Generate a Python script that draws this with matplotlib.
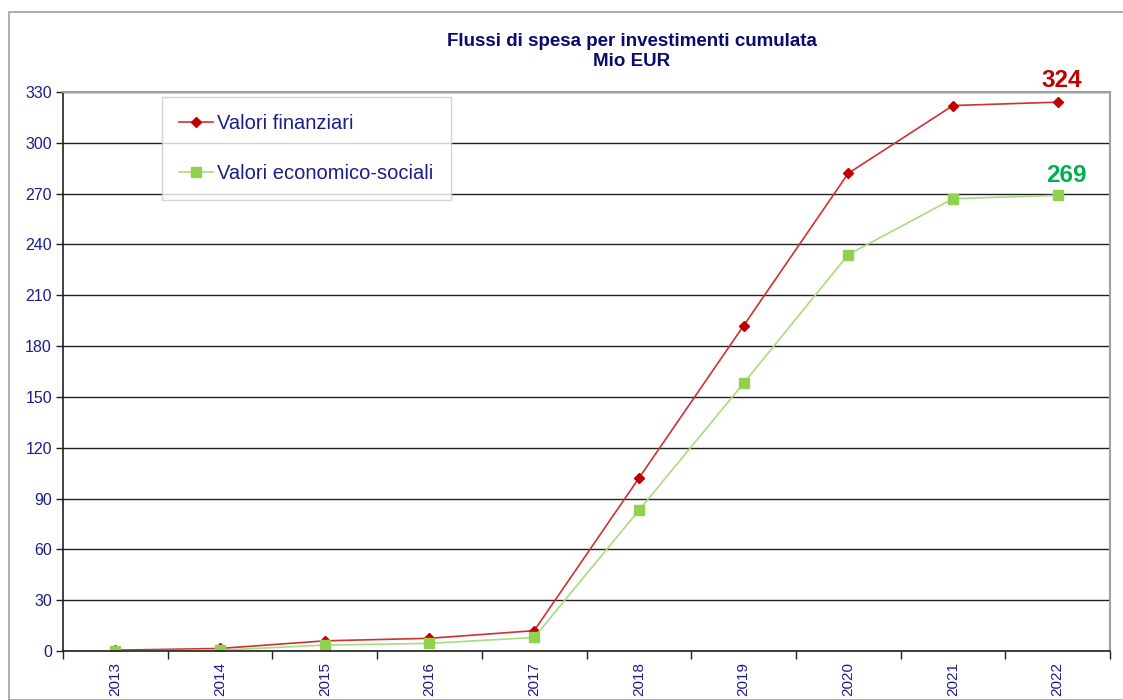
import matplotlib.pyplot as plt
import numpy as np
from matplotlib.patches import Rectangle

plt.rcParams['font.family'] = ['Liberation Sans', 'DejaVu Sans']

# Valori (Mio EUR, cumulati)
anni = ["2013", "2014", "2015", "2016", "2017", "2018", "2019", "2020", "2021", "2022"]
finanziari = [0.5, 1.5, 6, 7.5, 12, 102, 192, 282, 322, 324]
economico_sociali = [0, 0.5, 3.5, 4.5, 8, 83, 158, 234, 267, 269]

navy = "#1c1c8a"
rosso = "#c00000"
verde = "#92d050"

W, H = 1123, 700
fig = plt.figure(figsize=(W / 100, H / 100), dpi=100)

# bordo esterno dell'area grafico
fig.patches.append(Rectangle((9 / W, 0), 1.2, 1 - 12 / H, transform=fig.transFigure,
                             fill=False, edgecolor="#a0a0a0", lw=1.2))

ax = fig.add_axes([63 / W, 49 / H, (1110 - 63) / W, (651 - 92) / H])
x = np.arange(len(anni))

ax.plot(x, finanziari, color="#d03030", lw=1.2, marker="D", markersize=5,
        markerfacecolor=rosso, markeredgecolor=rosso, label="Valori finanziari")
ax.plot(x, economico_sociali, color="#a8dc80", lw=1.2, marker="s", markersize=7,
        markerfacecolor=verde, markeredgecolor=verde, label="Valori economico-sociali")

ax.set_xlim(-0.5, len(anni) - 0.5)
ax.set_ylim(0, 330)
ax.set_yticks(np.arange(0, 331, 30))
ax.yaxis.grid(True, color="#202020", lw=1)
ax.set_axisbelow(True)

ax.set_xticks(x)
ax.set_xticklabels(anni, rotation=90, color=navy, fontsize=11)
ax.set_xticks(np.arange(-0.5, len(anni)), minor=True)
ax.tick_params(axis="x", which="major", length=0, pad=8)
ax.tick_params(axis="x", which="minor", length=6, width=1, color="#202020")
ax.tick_params(axis="y", length=5, width=1, color="#202020", labelcolor=navy,
               labelsize=11.5, pad=3)

for s in ["left", "bottom"]:
    ax.spines[s].set_color("#202020")
    ax.spines[s].set_linewidth(1.2)
for s in ["top", "right"]:
    ax.spines[s].set_color("#a0a0a0")
    ax.spines[s].set_linewidth(1.5)

ax.annotate(str(finanziari[-1]), (x[-1], finanziari[-1]), xytext=(3, 7),
            textcoords="offset points", ha="center", va="bottom",
            color=rosso, fontsize=17.5, fontweight="bold")
ax.annotate(str(economico_sociali[-1]), (x[-1], economico_sociali[-1]), xytext=(6, 6),
            textcoords="offset points", ha="center", va="bottom",
            color="#00b050", fontsize=17.5, fontweight="bold")

leg = ax.legend(loc="upper left", bbox_to_anchor=((162 - 63) / (1110 - 63), 1 - 5 / 559),
                frameon=True, fancybox=False, fontsize=14.5, labelspacing=1.55,
                borderpad=0.85, handlelength=1.7, handletextpad=0.2, borderaxespad=0)
leg.get_frame().set_edgecolor("#c8c8c8")
leg.get_frame().set_linewidth(1)
for t in leg.get_texts():
    t.set_color(navy)

fig.text(632 / W, 1 - 41 / H, "Flussi di spesa per investimenti cumulata", ha="center",
         va="center", color="#0a0a70", fontsize=13.5, fontweight="bold")
fig.text(632 / W, 1 - 61 / H, "Mio EUR", ha="center", va="center",
         color="#0a0a70", fontsize=13.5, fontweight="bold")

fig.savefig("out.png", dpi=100)
